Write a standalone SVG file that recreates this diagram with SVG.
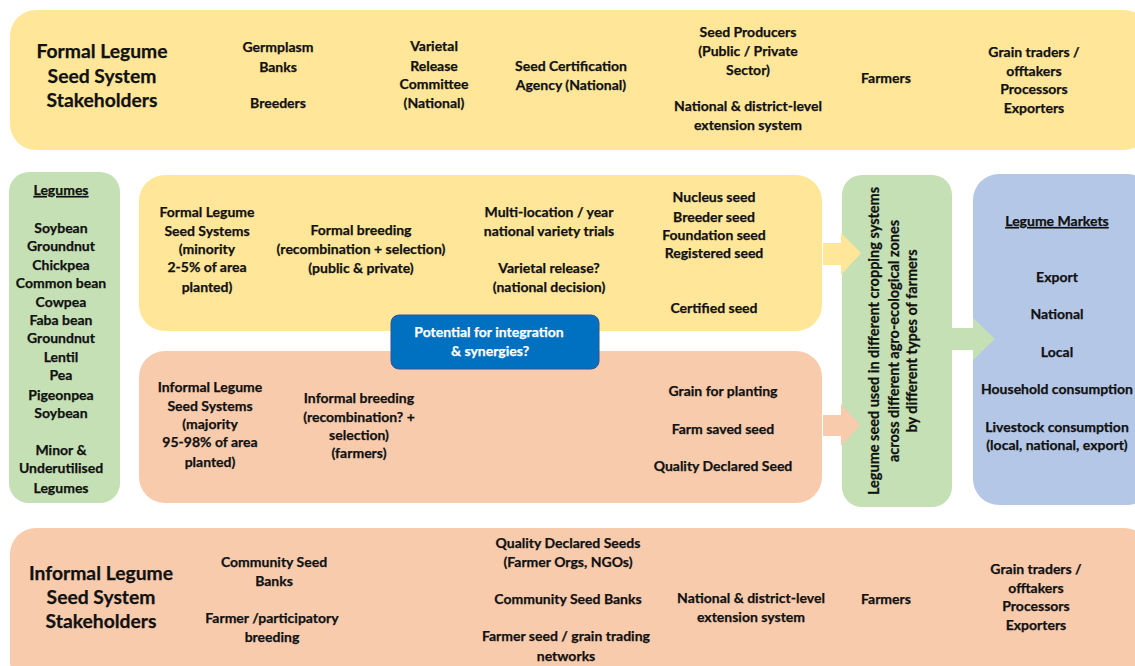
<svg xmlns="http://www.w3.org/2000/svg" width="1135" height="666" viewBox="0 0 1135 666">
  <style>
    text { font-family: Lato, "Open Sans", "Liberation Sans", sans-serif; font-weight: bold; fill: #111; text-anchor: middle; stroke: #111; stroke-width: 0.25; }
    .t { font-size: 14px; }
    .v { font-size: 14.5px; }
    .big { font-size: 19.3px; }
    .u { text-decoration: underline; }
    .w { fill: #ffffff; stroke: #ffffff; }
    .yellow { fill: #FFE699; }
    .orange { fill: #F8CBAD; }
    .green { fill: #C5E0B4; }
    .blue { fill: #B4C7E7; }
  </style>

  <rect width="1135" height="666" fill="#ffffff"/>

  <!-- Formal stakeholders band -->
  <g id="formal-stakeholders">
    <rect class="yellow" x="10" y="10" width="1140" height="140" rx="26"/>
    <text class="big"><tspan x="102" y="58">Formal Legume</tspan><tspan x="102" y="83">Seed System</tspan><tspan x="102" y="107">Stakeholders</tspan></text>
    <text class="t"><tspan x="278" y="52">Germplasm</tspan><tspan x="278" y="72">Banks</tspan><tspan x="278" y="108">Breeders</tspan></text>
    <text class="t"><tspan x="434" y="51">Varietal</tspan><tspan x="434" y="71">Release</tspan><tspan x="434" y="89">Committee</tspan><tspan x="434" y="108">(National)</tspan></text>
    <text class="t"><tspan x="571" y="71">Seed Certification</tspan><tspan x="571" y="90">Agency (National)</tspan></text>
    <text class="t"><tspan x="748" y="37">Seed Producers</tspan><tspan x="748" y="56">(Public / Private</tspan><tspan x="748" y="75">Sector)</tspan><tspan x="748" y="111">National &amp; district-level</tspan><tspan x="748" y="130">extension system</tspan></text>
    <text class="t" x="886" y="83">Farmers</text>
    <text class="t"><tspan x="1034" y="57">Grain traders /</tspan><tspan x="1034" y="76">offtakers</tspan><tspan x="1034" y="94">Processors</tspan><tspan x="1034" y="113">Exporters</tspan></text>
  </g>

  <!-- Legume crops -->
  <g id="legumes">
    <rect class="green" x="9" y="172" width="111" height="331" rx="20"/>
    <text class="t u" x="61" y="195">Legumes</text>
    <text class="t">
      <tspan x="61" y="233">Soybean</tspan><tspan x="61" y="251">Groundnut</tspan><tspan x="61" y="270">Chickpea</tspan><tspan x="61" y="288">Common bean</tspan><tspan x="61" y="307">Cowpea</tspan><tspan x="61" y="325">Faba bean</tspan><tspan x="61" y="343">Groundnut</tspan><tspan x="61" y="362">Lentil</tspan><tspan x="61" y="380">Pea</tspan><tspan x="61" y="400">Pigeonpea</tspan><tspan x="61" y="418">Soybean</tspan><tspan x="61" y="455">Minor &amp;</tspan><tspan x="61" y="473">Underutilised</tspan><tspan x="61" y="493">Legumes</tspan>
    </text>
  </g>

  <!-- Formal seed system -->
  <g id="formal-system">
    <rect class="yellow" x="139" y="175" width="683" height="156" rx="26"/>
    <text class="t"><tspan x="207" y="217">Formal Legume</tspan><tspan x="207" y="236">Seed Systems</tspan><tspan x="207" y="254">(minority</tspan><tspan x="207" y="272">2-5% of area</tspan><tspan x="207" y="292">planted)</tspan></text>
    <text class="t"><tspan x="361" y="235">Formal breeding</tspan><tspan x="361" y="254">(recombination + selection)</tspan><tspan x="361" y="273">(public &amp; private)</tspan></text>
    <text class="t"><tspan x="549" y="217">Multi-location / year</tspan><tspan x="549" y="236">national variety trials</tspan><tspan x="549" y="273">Varietal release?</tspan><tspan x="549" y="292">(national decision)</tspan></text>
    <text class="t"><tspan x="714" y="202">Nucleus seed</tspan><tspan x="714" y="222">Breeder seed</tspan><tspan x="714" y="240">Foundation seed</tspan><tspan x="714" y="258">Registered seed</tspan><tspan x="714" y="313">Certified seed</tspan></text>
  </g>

  <!-- Informal seed system -->
  <g id="informal-system">
    <rect class="orange" x="139" y="351" width="683" height="152" rx="26"/>
    <text class="t"><tspan x="210" y="392">Informal Legume</tspan><tspan x="210" y="411">Seed Systems</tspan><tspan x="210" y="429">(majority</tspan><tspan x="210" y="447">95-98% of area</tspan><tspan x="210" y="467">planted)</tspan></text>
    <text class="t"><tspan x="359" y="403">Informal breeding</tspan><tspan x="359" y="422">(recombination? +</tspan><tspan x="359" y="440">selection)</tspan><tspan x="359" y="458">(farmers)</tspan></text>
    <text class="t"><tspan x="723" y="396">Grain for planting</tspan><tspan x="723" y="434">Farm saved seed</tspan><tspan x="723" y="471">Quality Declared Seed</tspan></text>
  </g>

  <!-- Integration callout -->
  <g id="integration">
    <rect x="391" y="315" width="208" height="54" rx="8" fill="#0070C0" stroke="#2F5597" stroke-width="1"/>
    <text class="t w"><tspan x="489" y="337">Potential for integration</tspan><tspan x="490" y="356">&amp; synergies?</tspan></text>
  </g>

  <!-- Seed use across farming systems -->
  <g id="seed-use">
    <rect class="green" x="842" y="175" width="110" height="332" rx="20"/>
    <text class="v" transform="translate(874 341) rotate(-90)"><tspan x="0" y="5">Legume seed used in different cropping systems</tspan><tspan x="0" y="25">across different agro-ecological zones</tspan><tspan x="0" y="43">by different types of farmers</tspan></text>
  </g>

  <!-- Markets -->
  <g id="markets">
    <rect class="blue" x="973" y="174" width="180" height="331" rx="26"/>
    <text class="t u" x="1057" y="226">Legume Markets</text>
    <text class="t"><tspan x="1057" y="282">Export</tspan><tspan x="1057" y="319">National</tspan><tspan x="1057" y="357">Local</tspan><tspan x="1057" y="394">Household consumption</tspan><tspan x="1057" y="432">Livestock consumption</tspan><tspan x="1057" y="450">(local, national, export)</tspan></text>
  </g>

  <!-- Block arrows -->
  <g id="connectors">
    <polygon class="yellow" points="823,243 841,243 841,233 861,253 841,275 841,265 823,265"/>
    <polygon class="orange" points="823,415 841,415 841,404 860,425 841,446 841,436 823,436"/>
    <polygon class="green" points="952,328 973,328 973,318 995,339 973,360 973,350 952,350"/>
  </g>

  <!-- Informal stakeholders band -->
  <g id="informal-stakeholders">
    <rect class="orange" x="10" y="528" width="1140" height="160" rx="26"/>
    <text class="big"><tspan x="101" y="580">Informal Legume</tspan><tspan x="101" y="604">Seed System</tspan><tspan x="101" y="628">Stakeholders</tspan></text>
    <text class="t"><tspan x="274" y="567">Community Seed</tspan><tspan x="274" y="586">Banks</tspan><tspan x="272" y="623">Farmer /participatory</tspan><tspan x="272" y="642">breeding</tspan></text>
    <text class="t"><tspan x="568" y="548">Quality Declared Seeds</tspan><tspan x="568" y="567">(Farmer Orgs, NGOs)</tspan><tspan x="568" y="604">Community Seed Banks</tspan><tspan x="566" y="641">Farmer seed / grain trading</tspan><tspan x="566" y="661">networks</tspan></text>
    <text class="t"><tspan x="751" y="603">National &amp; district-level</tspan><tspan x="751" y="622">extension system</tspan></text>
    <text class="t" x="886" y="604">Farmers</text>
    <text class="t"><tspan x="1036" y="574">Grain traders /</tspan><tspan x="1036" y="593">offtakers</tspan><tspan x="1036" y="611">Processors</tspan><tspan x="1036" y="630">Exporters</tspan></text>
  </g>
</svg>
